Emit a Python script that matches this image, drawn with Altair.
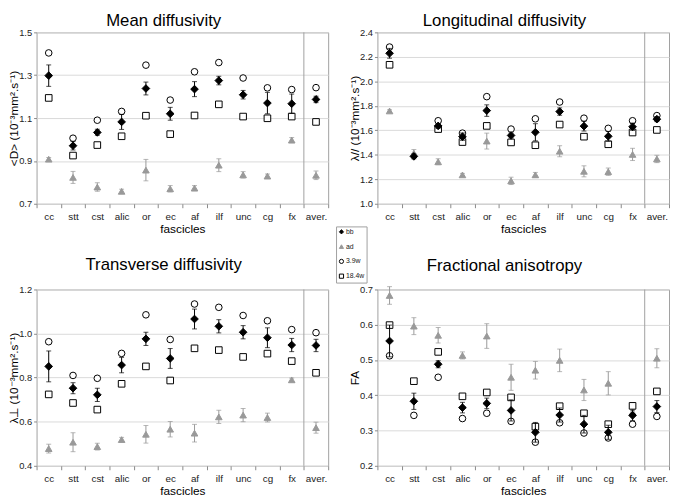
import altair as alt
import pandas as pd

categories = ["cc", "stt", "cst", "alic", "or", "ec", "af", "ilf", "unc", "cg", "fx", "aver."]
series = ["bb", "ad", "3.9w", "18.4w"]

# Mean diffusivity
md_bb = [1.298, 0.971, 1.033, 1.082, 1.238, 1.120, 1.235, 1.275, 1.209, 1.170, 1.167, 1.187]
md_bb_err = [0.05, 0.02, 0.015, 0.035, 0.03, 0.03, 0.035, 0.02, 0.02, 0.05, 0.045, 0.015]
md_ad = [0.908, 0.823, 0.778, 0.758, 0.857, 0.770, 0.773, 0.880, 0.835, 0.829, 0.997, 0.833]
md_ad_err = [0.008, 0.028, 0.02, 0.01, 0.05, 0.015, 0.012, 0.03, 0.015, 0.01, 0.012, 0.02]
md_w39 = [1.404, 1.006, 1.090, 1.131, 1.347, 1.184, 1.316, 1.359, 1.287, 1.241, 1.233, 1.242]
md_w184 = [1.194, 0.925, 0.974, 1.015, 1.111, 1.025, 1.112, 1.164, 1.107, 1.099, 1.107, 1.082]

# Longitudinal diffusivity
ld_bb = [2.229, 1.387, 1.636, 1.548, 1.761, 1.558, 1.584, 1.753, 1.634, 1.551, 1.629, 1.691]
ld_bb_err = [0.04, 0.02, 0.02, 0.03, 0.047, 0.02, 0.07, 0.03, 0.04, 0.04, 0.03, 0.02]
ld_ad = [1.758, 1.413, 1.343, 1.236, 1.512, 1.187, 1.236, 1.429, 1.265, 1.262, 1.403, 1.366]
ld_ad_err = [0.01, 0.03, 0.025, 0.012, 0.065, 0.03, 0.02, 0.045, 0.045, 0.03, 0.05, 0.03]
ld_w39 = [2.280, None, 1.678, 1.577, 1.875, 1.610, 1.694, 1.831, 1.699, 1.616, 1.678, 1.720]
ld_w184 = [2.135, None, 1.610, 1.504, 1.636, 1.501, 1.478, 1.647, 1.548, 1.486, 1.582, 1.603]

# Transverse diffusivity
td_bb = [0.851, 0.752, 0.722, 0.857, 0.976, 0.887, 1.066, 1.033, 1.006, 0.981, 0.948, 0.946]
td_bb_err = [0.07, 0.025, 0.03, 0.035, 0.03, 0.045, 0.045, 0.03, 0.03, 0.045, 0.03, 0.028]
td_ad = [0.478, 0.507, 0.487, 0.519, 0.543, 0.566, 0.548, 0.622, 0.630, 0.619, 0.790, 0.573]
td_ad_err = [0.02, 0.043, 0.015, 0.01, 0.04, 0.035, 0.04, 0.03, 0.03, 0.02, 0.008, 0.025]
td_w39 = [0.963, 0.810, 0.797, 0.910, 1.085, 0.973, 1.134, 1.119, 1.082, 1.058, 1.018, 1.004]
td_w184 = [0.724, 0.685, 0.655, 0.772, 0.851, 0.787, 0.933, 0.925, 0.894, 0.909, 0.875, 0.822]

# Fractional anisotropy
fa_bb = [0.554, 0.383, 0.488, 0.365, 0.377, 0.357, 0.295, 0.344, 0.318, 0.295, 0.343, 0.368]
fa_bb_err = [0.045, 0.023, 0.01, 0.015, 0.015, 0.03, 0.028, 0.02, 0.025, 0.02, 0.015, 0.017]
fa_ad = [0.683, 0.596, 0.570, 0.513, 0.568, 0.451, 0.471, 0.499, 0.415, 0.434, 0.353, 0.505]
fa_ad_err = [0.025, 0.024, 0.022, 0.01, 0.035, 0.037, 0.025, 0.032, 0.03, 0.033, 0.01, 0.027]
fa_w39 = [0.512, 0.343, 0.451, 0.334, 0.349, 0.326, 0.267, 0.322, 0.293, 0.279, 0.318, 0.340]
fa_w184 = [0.599, 0.440, 0.523, 0.397, 0.408, 0.394, 0.311, 0.369, 0.349, 0.318, 0.370, 0.411]

GRAY = "#999999"
FONT = "Liberation Sans"
W = 296
H_TOP, H_BOT = 174, 179


def build_df(bb, bb_err, ad, ad_err, w39, w184):
    rows = []
    for i, c in enumerate(categories):
        rows.append({"cat": c, "series": "ad", "value": ad[i],
                     "lo": ad[i] - ad_err[i], "hi": ad[i] + ad_err[i]})
        if w184[i] is not None:
            rows.append({"cat": c, "series": "18.4w", "value": w184[i]})
        if w39[i] is not None:
            rows.append({"cat": c, "series": "3.9w", "value": w39[i]})
        rows.append({"cat": c, "series": "bb", "value": bb[i],
                     "lo": bb[i] - bb_err[i], "hi": bb[i] + bb_err[i]})
    return pd.DataFrame(rows)


def panel(title, ytitle, dom, ticks, toff, h, bb, bb_err, ad, ad_err, w39, w184):
    df = build_df(bb, bb_err, ad, ad_err, w39, w184)
    xscale = alt.Scale(domain=categories, paddingInner=0, paddingOuter=0)
    xaxis = alt.Axis(title="fascicles", labelAngle=0, tickBand="extent", domain=False,
                     tickSize=4, tickColor="#888888", labelFontSize=10, labelPadding=4,
                     titleFontSize=12, titlePadding=2, titleFontWeight="normal", grid=False)
    yscale = alt.Scale(domain=dom, nice=False, zero=False)
    yaxis = alt.Axis(title=ytitle, values=ticks, format=".1f", grid=True, gridColor="#d9d9d9",
                     domain=False, tickSize=3, tickColor="#888888", labelFontSize=9.5,
                     labelPadding=2, titleFontSize=12, titleFontWeight="normal", titlePadding=-2)

    def X(**kw):
        return alt.X("cat:N", scale=xscale, axis=xaxis, **kw)

    def Y(field):
        return alt.Y(f"{field}:Q", scale=yscale, axis=yaxis)

    leg = alt.Legend(title=None)
    shape = alt.Shape("series:N", scale=alt.Scale(domain=series, range=["diamond", "triangle-up", "circle", "square"]), legend=leg)
    fill = alt.Fill("series:N", scale=alt.Scale(domain=series, range=["black", GRAY, "white", "white"]), legend=leg)
    stroke = alt.Stroke("series:N", scale=alt.Scale(domain=series, range=["black", GRAY, "black", "black"]), legend=leg)

    sep = alt.Chart(pd.DataFrame({"cat": ["fx"]})).mark_rule(color="#a0a0a0", strokeWidth=1).encode(
        x=X(bandPosition=1), y=alt.value(0), y2=alt.value(h))

    ad_df = df[df.series == "ad"]
    bb_df = df[df.series == "bb"]
    oth_df = df[df.series != "bb"]

    ad_rule = alt.Chart(ad_df).mark_rule(color=GRAY, strokeWidth=1).encode(x=X(), y=Y("lo"), y2="hi:Q")
    ad_cap1 = alt.Chart(ad_df).mark_tick(color=GRAY, size=5, thickness=1).encode(x=X(), y=Y("lo"))
    ad_cap2 = alt.Chart(ad_df).mark_tick(color=GRAY, size=5, thickness=1).encode(x=X(), y=Y("hi"))
    oth_pts = alt.Chart(oth_df).mark_point(size=45, strokeWidth=1, opacity=1).encode(
        x=X(), y=Y("value"), shape=shape, fill=fill, stroke=stroke)
    bb_rule = alt.Chart(bb_df).mark_rule(color="black", strokeWidth=1).encode(x=X(), y=Y("lo"), y2="hi:Q")
    bb_cap1 = alt.Chart(bb_df).mark_tick(color="black", size=5, thickness=1).encode(x=X(), y=Y("lo"))
    bb_cap2 = alt.Chart(bb_df).mark_tick(color="black", size=5, thickness=1).encode(x=X(), y=Y("hi"))
    bb_pts = alt.Chart(bb_df).mark_point(size=60, strokeWidth=1, opacity=1).encode(
        x=X(), y=Y("value"), shape=shape, fill=fill, stroke=stroke)

    return alt.layer(sep, ad_rule, ad_cap1, ad_cap2, oth_pts, bb_rule, bb_cap1, bb_cap2, bb_pts).properties(
        width=W, height=h,
        title=alt.TitleParams(title, fontSize=17, fontWeight="normal", anchor="middle", frame="group",
                              baseline="alphabetic", offset=toff, dx=-19))


p1 = panel("Mean diffusivity", "<D> (10⁻³mm².s⁻¹)", [0.7, 1.5], [0.7, 0.9, 1.1, 1.3, 1.5], -16, H_TOP,
           md_bb, md_bb_err, md_ad, md_ad_err, md_w39, md_w184)
p2 = panel("Longitudinal diffusivity", "λ// (10⁻³mm².s⁻¹)", [1.0, 2.4], [1.0, 1.2, 1.4, 1.6, 1.8, 2.0, 2.2, 2.4], -16, H_TOP,
           ld_bb, ld_bb_err, ld_ad, ld_ad_err, ld_w39, ld_w184)
p3 = panel("Transverse diffusivity", "λ⊥ (10⁻³mm².s⁻¹)", [0.4, 1.2], [0.4, 0.6, 0.8, 1.0, 1.2], -2, H_BOT,
           td_bb, td_bb_err, td_ad, td_ad_err, td_w39, td_w184)
p4 = panel("Fractional anisotropy", "FA", [0.2, 0.7], [0.2, 0.3, 0.4, 0.5, 0.6, 0.7], -3, H_BOT,
           fa_bb, fa_bb_err, fa_ad, fa_ad_err, fa_w39, fa_w184)

chart = alt.concat(p1, p2, p3, p4, columns=2, spacing={"row": 87, "column": 50}, bounds="flush").properties(
    padding={"left": -1, "top": 0, "right": 0, "bottom": 0}
).configure_view(stroke="#a0a0a0", strokeWidth=1).configure_axis(
    labelFont=FONT, titleFont=FONT, labelColor="#222222", titleColor="#000000"
).configure_title(font=FONT, color="#000000").configure_legend(
    orient="none", legendX=304, legendY=197, strokeColor="#a0a0a0", fillColor="white",
    padding=2, labelFont=FONT, labelFontSize=7, labelColor="#222222", symbolSize=18,
    rowPadding=6, labelOffset=1, symbolStrokeWidth=1
)

chart.save("out.html", embed_options={"renderer": "svg", "actions": False})
